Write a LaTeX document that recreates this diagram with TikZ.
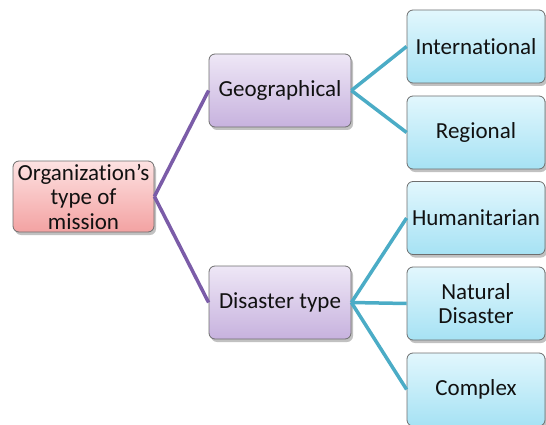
\documentclass[tikz,border=0pt]{standalone}
\usepackage{fontspec}
\setmainfont[Ligatures=NoCommon]{Carlito}
\usetikzlibrary{shadows}
\definecolor{rootTop}{HTML}{FDE2E2}
\definecolor{rootBot}{HTML}{F3A2A2}
\definecolor{purTop}{HTML}{EEE7F6}
\definecolor{purBot}{HTML}{C7B2DE}
\definecolor{cyTop}{HTML}{E2F7FD}
\definecolor{cyBot}{HTML}{A6E2F4}
\definecolor{purLine}{HTML}{7B5CA8}
\definecolor{cyLine}{HTML}{4BACC6}
\definecolor{boxEdge}{HTML}{6E6E6E}
\definecolor{txt}{HTML}{111111}
\tikzset{
  box/.style={draw=boxEdge, line width=0.8pt, rounded corners=6pt, align=center,
    font=\fontsize{23}{24.5}\selectfont, text=txt, inner sep=0pt,
    drop shadow={shadow xshift=2pt, shadow yshift=-3pt, fill=gray!70, opacity=0.7}},
  rootbox/.style={box, top color=rootTop, bottom color=rootBot, minimum width=141pt, minimum height=71pt},
  midbox/.style={box, top color=purTop, bottom color=purBot, minimum width=142pt, minimum height=73pt},
  leafbox/.style={box, top color=cyTop, bottom color=cyBot, minimum width=138pt, minimum height=73pt},
  pline/.style={draw=purLine, line width=3.5pt},
  cline/.style={draw=cyLine, line width=3.5pt}
}
\begin{document}
\begin{tikzpicture}[x=1pt,y=-1pt]
\useasboundingbox (0,0) rectangle (546,425);
\clip (0,0) rectangle (546,425);
\node[rootbox] (root) at (83.5,196.5) {Organization’s\\type of\\mission};
\node[midbox] (geo) at (280,90.5) {Geographical};
\node[midbox] (dis) at (280,302.5) {Disaster type};
\node[leafbox] (intl) at (476,46.5) {International};
\node[leafbox] (reg) at (476,132.5) {Regional};
\node[leafbox] (hum) at (476,218) {Humanitarian};
\node[leafbox] (nat) at (476,303.5) {Natural\\Disaster};
\node[leafbox] (cpx) at (476,389.5) {Complex};
\draw[pline] (root.east) -- (geo.west);
\draw[pline] (root.east) -- (dis.west);
\draw[cline] (geo.east) -- (intl.west);
\draw[cline] (geo.east) -- (reg.west);
\draw[cline] (dis.east) -- (hum.west);
\draw[cline] (dis.east) -- (nat.west);
\draw[cline] (dis.east) -- (cpx.west);
\end{tikzpicture}
\end{document}
